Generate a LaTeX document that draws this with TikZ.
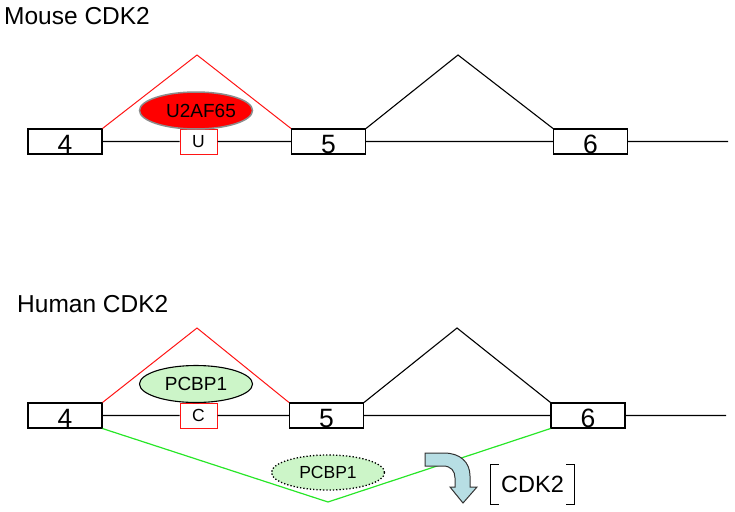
\documentclass[tikz,border=0pt]{standalone}
\usepackage{fontspec}
\setmainfont{Liberation Sans}
\usepackage{tikz}
\usetikzlibrary{shapes}

\definecolor{intronred}{RGB}{255,20,20}
\definecolor{skipgreen}{RGB}{40,230,40}
\definecolor{pcbpfill}{RGB}{204,245,200}
\definecolor{arrowfill}{RGB}{183,222,228}

\tikzset{
	exon/.style={draw, line width=1.1pt, minimum width=74pt, minimum height=25pt, inner sep=0pt,
		text height=24pt, text depth=0pt, font=\fontsize{26.5}{30}\selectfont},
	nucl/.style={draw=intronred, line width=1pt, fill=white, minimum width=37pt, minimum height=25pt,
		inner sep=0pt, font=\fontsize{17.5}{20}\selectfont},
	intron/.style={line width=1.1pt},
	title/.style={anchor=base west, inner sep=0pt, font=\fontsize{24.5}{29}\selectfont},
	factor/.style={ellipse, minimum width=113pt, minimum height=37pt, inner sep=0pt,
		font=\fontsize{19}{22}\selectfont}
}

\begin{document}
\begin{tikzpicture}[x=1pt, y=-1pt]
	\useasboundingbox (0,0) rectangle (735,511);

	% mouse
	\node[title] (mtitle) at (4,25) {Mouse CDK2};
	\node[exon] (m4) at (65,141.5) {4};
	\node[nucl] (mU) at (198.5,141.5) {U};
	\node[exon] (m5) at (328.5,141.5) {5};
	\node[exon] (m6) at (590.5,141.5) {6};
	\coordinate (mend) at (728,141.5);
	\coordinate (mpeakA) at (197,55);
	\coordinate (mpeakB) at (458,55);

	\draw[intron]
	(m4.east) -- (mU.west)
	(mU.east) -- (m5.west)
	(m5.east) -- (m6.west)
	(m6.east) -- (mend)
	(m5.north east) -- (mpeakB) -- (m6.north west)
	;
	\draw[intronred, line width=1pt] (m4.north east) -- (mpeakA) -- (m5.north west);
	\node[factor, fill=red, draw=black!45, line width=1.5pt] (u2af) at (196,110.5) {\hspace*{10pt}U2AF65};

	% human
	\node[title] (htitle) at (17,312) {Human CDK2};
	\node[exon] (h4) at (65,415.5) {4};
	\node[nucl] (hC) at (198.5,415.5) {C};
	\node[exon] (h5) at (326.5,415.5) {5};
	\node[exon] (h6) at (588,415.5) {6};
	\coordinate (hend) at (726,415.5);
	\coordinate (hpeakA) at (197,328);
	\coordinate (hpeakB) at (457,328);
	\coordinate (hskip) at (328,502);

	\draw[intron]
	(h4.east) -- (hC.west)
	(hC.east) -- (h5.west)
	(h5.east) -- (h6.west)
	(h6.east) -- (hend)
	(h5.north east) -- (hpeakB) -- (h6.north west)
	;
	\draw[intronred, line width=1pt] (h4.north east) -- (hpeakA) -- (h5.north west);
	\draw[skipgreen, line width=1.2pt] (h4.south east) -- (hskip) -- (h6.south west);

	\node[factor, fill=pcbpfill, draw, line width=1.1pt] (pcbpA) at (196,384) {PCBP1};
	\node[factor, fill=pcbpfill, draw, dotted, line width=1.3pt, minimum height=35pt,
		font=\fontsize{17.5}{20}\selectfont] (pcbpB) at (328,472.5) {PCBP1};

	% turn arrow
	\draw[fill=arrowfill, draw=black!80, line width=1pt]
	(425,453) -- (444,453) .. controls (460,453) and (470,462) .. (470,476)
	-- (470,487) -- (477,487) -- (463,503) -- (450,487) -- (455,487) -- (455,478)
	.. controls (455,471) and (451,466) .. (443,466) -- (425,466) -- cycle;

	\node[minimum height=39pt, inner xsep=10pt, inner ysep=0pt, font=\fontsize{23.5}{27}\selectfont]
	(cdk) at (532.5,484.5) {CDK2};
	\draw[line width=1pt]
	([xshift=8pt]cdk.north west) -- (cdk.north west) -- (cdk.south west) -- ++(8,0)
	([xshift=-8pt]cdk.north east) -- (cdk.north east) -- (cdk.south east) -- ++(-8,0)
	;
\end{tikzpicture}
\end{document}
